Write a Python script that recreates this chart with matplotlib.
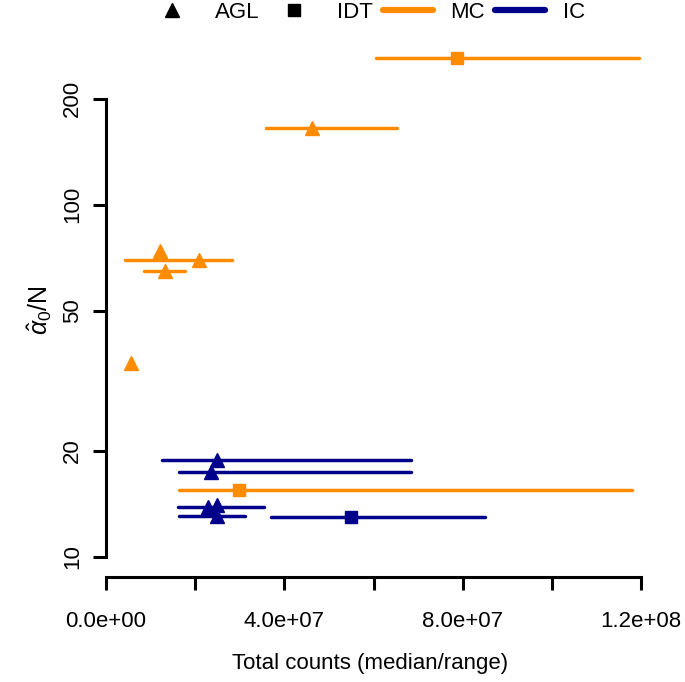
import matplotlib
matplotlib.use("Agg")
import matplotlib.pyplot as plt
from matplotlib.lines import Line2D

plt.rcParams['font.family'] = ['Liberation Sans', 'DejaVu Sans']
plt.rcParams['mathtext.fontset'] = 'custom'
plt.rcParams['mathtext.rm'] = 'Liberation Sans'
plt.rcParams['mathtext.it'] = 'Liberation Sans:italic'

# MC estimates (orange)
mc_method = ['IDT', 'AGL', 'AGL', 'AGL', 'AGL', 'AGL', 'IDT']
mc_med = [7.87e7, 4.62e7, 1.21e7, 2.09e7, 1.32e7, 0.56e7, 2.98e7]
mc_lo = [6.05e7, 3.59e7, 1.21e7, 0.43e7, 0.85e7, 0.56e7, 1.64e7]
mc_hi = [11.95e7, 6.52e7, 1.21e7, 2.82e7, 1.77e7, 0.56e7, 11.79e7]
mc_y = [261, 165, 74, 69.5, 65, 35.6, 15.5]

# IC estimates (navy)
ic_method = ['AGL', 'AGL', 'AGL', 'AGL', 'AGL', 'IDT']
ic_med = [2.48e7, 2.35e7, 2.28e7, 2.50e7, 2.48e7, 5.49e7]
ic_lo = [1.25e7, 1.64e7, 1.61e7, 2.50e7, 1.64e7, 3.70e7]
ic_hi = [6.85e7, 6.85e7, 3.55e7, 2.50e7, 3.12e7, 8.51e7]
ic_y = [18.9, 17.4, 13.85, 14.0, 13.05, 13.0]

orange = '#FF8C00'
navy = '#00008B'
markers = {'AGL': '^', 'IDT': 's'}
msize = {'AGL': 10, 'IDT': 9}

fig = plt.figure(figsize=(6.85, 6.82), dpi=100)
ax = fig.add_axes([0.1547, 0.154, 0.962 - 0.1547, 0.9516 - 0.154])

for med, lo, hi, y, m in zip(mc_med, mc_lo, mc_hi, mc_y, mc_method):
    ax.plot([lo, hi], [y, y], color=orange, lw=2.5, solid_capstyle='round')
    ax.plot(med, y, marker=markers[m], ms=msize[m], color=orange, ls='none')
for med, lo, hi, y, m in zip(ic_med, ic_lo, ic_hi, ic_y, ic_method):
    ax.plot([lo, hi], [y, y], color=navy, lw=2.5, solid_capstyle='round')
    ax.plot(med, y, marker=markers[m], ms=msize[m], color=navy, ls='none')

ax.set_yscale('log')
ax.set_xlim(0, 1.24e8)
ax.set_ylim(8.77, 307.6)

yt = [10, 20, 50, 100, 200]
ax.set_yticks(yt)
ax.set_yticklabels([str(v) for v in yt], rotation=90, va='center')
ax.yaxis.set_minor_locator(plt.NullLocator())
xt = [0, 2e7, 4e7, 6e7, 8e7, 1e8, 1.2e8]
xl = ['0.0e+00', '', '4.0e+07', '', '8.0e+07', '', '1.2e+08']
ax.set_xticks(xt)
ax.set_xticklabels(xl)

for s in ['top', 'right']:
    ax.spines[s].set_visible(False)
ax.spines['left'].set_bounds(10, 200)
ax.spines['bottom'].set_bounds(0, 1.2e8)
ax.spines['left'].set_linewidth(2.2)
ax.spines['bottom'].set_linewidth(2.2)
ax.tick_params(length=9.5, width=2.2, labelsize=16)
ax.tick_params(axis='x', pad=15)
ax.tick_params(axis='y', pad=7)

fig.text(370 / 685, 1 - 663 / 682, 'Total counts (median/range)',
         ha='center', va='center', fontsize=16)
fig.text(40 / 685, 1 - 310 / 682, r'$\hat{\alpha}_0$/N', rotation=90,
         ha='center', va='center', fontsize=18)

handles = [
    Line2D([], [], marker='^', color='black', ls='none', ms=10),
    Line2D([], [], marker='s', color='black', ls='none', ms=8),
    Line2D([], [], color=orange, lw=4.5, solid_capstyle='round'),
    Line2D([], [], color=navy, lw=4.5, solid_capstyle='round'),
]
fig.legend(handles, ['AGL', 'IDT', 'MC', 'IC'], loc='center',
           bbox_to_anchor=(366 / 685, 1 - 12 / 682), ncol=4, frameon=False,
           fontsize=16, handlelength=2.25, handletextpad=0.8,
           columnspacing=0.45, borderpad=0)

fig.savefig('out.png', dpi=100)
